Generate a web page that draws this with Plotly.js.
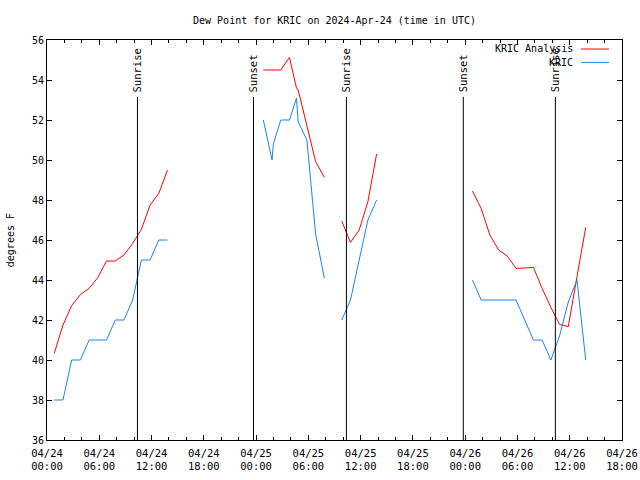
<!DOCTYPE html>
<html>
<head>
<meta charset="utf-8">
<script src="https://cdn.plot.ly/plotly-3.0.1.min.js"></script>
<style>html,body{margin:0;padding:0;background:#fff;}#chart{width:640px;height:480px;}</style>
</head>
<body>
<div id="chart"></div>
<script>
// ---- data ----
const analysisTimes = [
  '2024-04-24 00:50','2024-04-24 01:50','2024-04-24 02:50','2024-04-24 03:50','2024-04-24 04:50',
  '2024-04-24 05:50','2024-04-24 06:50','2024-04-24 07:50','2024-04-24 08:50','2024-04-24 09:50',
  '2024-04-24 10:50','2024-04-24 11:50','2024-04-24 12:50','2024-04-24 13:50',
  '2024-04-24 18:00',
  '2024-04-25 00:50','2024-04-25 01:50','2024-04-25 02:50','2024-04-25 03:50','2024-04-25 04:38',
  '2024-04-25 04:50','2024-04-25 05:50','2024-04-25 06:50','2024-04-25 07:50',
  '2024-04-25 08:50',
  '2024-04-25 09:50','2024-04-25 10:50','2024-04-25 11:50','2024-04-25 12:50','2024-04-25 13:50',
  '2024-04-25 18:00',
  '2024-04-26 00:50','2024-04-26 01:50','2024-04-26 02:50','2024-04-26 03:50','2024-04-26 04:50',
  '2024-04-26 05:50','2024-04-26 06:50','2024-04-26 07:50','2024-04-26 08:50','2024-04-26 09:50',
  '2024-04-26 10:50','2024-04-26 11:50','2024-04-26 12:50','2024-04-26 13:50'
];
const analysisValues = [
  40.33, 41.75, 42.72, 43.27, 43.58, 44.12, 44.95, 44.95, 45.25, 45.83, 46.53, 47.75, 48.33, 49.5,
  null,
  54.5, 54.5, 54.5, 55.13, 53.6, 53.5, 51.7, 49.92, 49.13,
  null,
  46.95, 45.88, 46.5, 47.92, 50.3,
  null,
  48.45, 47.58, 46.25, 45.5, 45.2, 44.58, 44.6, 44.63, 43.58, 42.63, 41.78, 41.67, 44.17, 46.63
];

const obsTimes = [
  '2024-04-24 00:50','2024-04-24 01:50','2024-04-24 02:50','2024-04-24 03:50','2024-04-24 04:50',
  '2024-04-24 05:50','2024-04-24 06:50','2024-04-24 07:50','2024-04-24 08:50','2024-04-24 09:50',
  '2024-04-24 10:50','2024-04-24 11:50','2024-04-24 12:50','2024-04-24 13:50',
  '2024-04-24 18:00',
  '2024-04-25 00:50','2024-04-25 01:50','2024-04-25 01:59','2024-04-25 02:50','2024-04-25 03:50',
  '2024-04-25 04:38','2024-04-25 04:50','2024-04-25 05:50','2024-04-25 06:50','2024-04-25 07:50',
  '2024-04-25 08:50',
  '2024-04-25 09:50','2024-04-25 10:50','2024-04-25 11:50','2024-04-25 12:50','2024-04-25 13:50',
  '2024-04-25 18:00',
  '2024-04-26 00:50','2024-04-26 01:50','2024-04-26 02:50','2024-04-26 03:50','2024-04-26 04:50',
  '2024-04-26 05:50','2024-04-26 06:50','2024-04-26 07:50','2024-04-26 08:50','2024-04-26 09:50',
  '2024-04-26 10:50','2024-04-26 11:50','2024-04-26 12:50','2024-04-26 13:50'
];
const obsValues = [
  38, 38, 40, 40, 41, 41, 41, 42, 42, 43, 45, 45, 46, 46,
  null,
  52, 50, 50.8, 52, 52, 53.1, 51.9, 51.0, 46.3, 44.1,
  null,
  42, 43, 45, 47, 48,
  null,
  44, 43, 43, 43, 43, 43, 42, 41, 41, 40, 41.2, 42.9, 44, 40
];

const sunTimes = ['2024-04-24 10:23','2024-04-24 23:42','2024-04-25 10:22','2024-04-25 23:47','2024-04-26 10:21'];
const sunLabels = ['Sunrise','Sunset','Sunrise','Sunset','Sunrise'];

const seriesNames = ['KRIC Analysis','KRIC'];
const seriesColors = ['#ff0000','#1a84f0'];

const titleText = 'Dew Point for KRIC on 2024-Apr-24 (time in UTC)';
const yTitle = 'degrees F';

// ---- chart ----
const FONT = 'DejaVu Sans Mono';

const traces = [
  {x: analysisTimes, y: analysisValues, type: 'scatter', mode: 'lines', name: seriesNames[0],
   line: {color: seriesColors[0], width: 1}, connectgaps: false, showlegend: false},
  {x: obsTimes, y: obsValues, type: 'scatter', mode: 'lines', name: seriesNames[1],
   line: {color: seriesColors[1], width: 1}, connectgaps: false, showlegend: false}
];

const shapes = [];
const annotations = [];
sunTimes.forEach((t, i) => {
  shapes.push({type: 'line', xref: 'x', yref: 'paper', x0: t, x1: t, y0: 0, y1: 0.8575,
               line: {color: 'black', width: 1}});
  annotations.push({x: t, xref: 'x', y: 0.865, yref: 'paper', text: sunLabels[i], showarrow: false,
                    textangle: -90, xanchor: 'center', yanchor: 'bottom',
                    font: {family: FONT, size: 10.5, color: 'black'}});
});

// manual gnuplot-style key (text then line sample)
const keyY = [0.9775, 0.944];
seriesNames.forEach((n, i) => {
  annotations.push({x: 0.9174, xref: 'paper', y: keyY[i], yref: 'paper', text: n, showarrow: false,
                    xanchor: 'right', yanchor: 'middle', font: {family: FONT, size: 10, color: 'black'}});
  shapes.push({type: 'line', xref: 'paper', yref: 'paper', x0: 0.9287, x1: 0.9774, y0: keyY[i], y1: keyY[i],
               line: {color: seriesColors[i], width: 1}});
});

annotations.push({x: -0.064, xref: 'paper', y: 0.5, yref: 'paper', text: yTitle, showarrow: false,
                  textangle: -90, xanchor: 'center', yanchor: 'middle',
                  font: {family: FONT, size: 10, color: 'black'}});

const layout = {
  width: 640, height: 480,
  margin: {l: 47, r: 18, t: 40, b: 40, pad: 0},
  paper_bgcolor: '#ffffff', plot_bgcolor: '#ffffff',
  font: {family: FONT, size: 10, color: 'black'},
  title: {text: titleText, x: 0.5, xref: 'paper', y: 1 - 20/480, yref: 'container', yanchor: 'middle',
          font: {family: FONT, size: 10, color: 'black'}},
  xaxis: {type: 'date', range: ['2024-04-24 00:00', '2024-04-26 18:00'],
          tick0: '2024-04-24 00:00', dtick: 6*3600*1000, tickformat: '%m/%d<br>%H:%M',
          ticks: 'inside', ticklen: 5, tickcolor: 'black', tickwidth: 1, ticklabelstandoff: 3,
          showline: true, linecolor: 'black', linewidth: 1, mirror: 'ticks',
          showgrid: false, zeroline: false,
          minor: {dtick: 2*3600*1000, ticks: 'inside', ticklen: 3, tickcolor: 'black', showgrid: false},
          tickfont: {family: FONT, size: 10.5, color: 'black'}},
  yaxis: {range: [36, 56], dtick: 2, tick0: 36,
          ticks: 'inside', ticklen: 5, tickcolor: 'black', tickwidth: 1,
          showline: true, linecolor: 'black', linewidth: 1, mirror: 'ticks',
          showgrid: false, zeroline: false,
          tickfont: {family: FONT, size: 10, color: 'black'}},
  shapes: shapes,
  annotations: annotations
};

Plotly.newPlot('chart', traces, layout, {staticPlot: true, displayModeBar: false});
</script>
</body>
</html>
